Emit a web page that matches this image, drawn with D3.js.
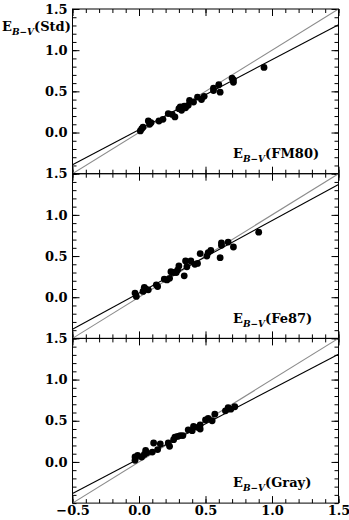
<!DOCTYPE html>
<html>
<head>
<meta charset="utf-8">
<script src="https://cdn.jsdelivr.net/npm/d3@7"></script>
<style>
  body { margin: 0; background: #fff; }
  svg { display: block; }
  .axis text { font-family: 'DejaVu Serif', serif; font-size: 13px; font-weight: bold; fill: #000; }
  .axis line { stroke: #000; }
  .lbl { font-family: 'DejaVu Serif', serif; font-size: 13px; font-weight: bold; }
</style>
</head>
<body>
<svg id="chart"></svg>
<script>
// panel labels (x axis quantity in each panel)
const panelNames = ['FM80', 'Fe87', 'Gray'];

// panel 1: E(B-V) FM80 vs Std
const xFM80 = [0.01, 0.02, 0.03, 0.07, 0.08, 0.09, 0.15, 0.18, 0.22, 0.25, 0.27, 0.30, 0.31, 0.32, 0.34, 0.35,
  0.37, 0.38, 0.41, 0.44, 0.47, 0.49, 0.56, 0.56, 0.60, 0.61, 0.70, 0.71, 0.71, 0.94];
const yStd1 = [0.02, 0.045, 0.065, 0.14, 0.10, 0.12, 0.14, 0.16, 0.23, 0.22, 0.19, 0.29, 0.31, 0.27, 0.32, 0.30,
  0.33, 0.39, 0.37, 0.43, 0.40, 0.44, 0.54, 0.51, 0.58, 0.49, 0.66, 0.61, 0.64, 0.79];

// panel 2: E(B-V) Fe87 vs Std
const xFe87 = [-0.03, -0.02, 0.03, 0.04, 0.05, 0.07, 0.13, 0.14, 0.19, 0.21, 0.23, 0.24, 0.26, 0.28, 0.29, 0.30,
  0.34, 0.35, 0.36, 0.39, 0.42, 0.44, 0.46, 0.51, 0.52, 0.54, 0.61, 0.62, 0.62, 0.67, 0.71, 0.90];
const yStd2 = [0.05, 0.01, 0.07, 0.12, 0.10, 0.09, 0.15, 0.13, 0.22, 0.21, 0.23, 0.31, 0.30, 0.30, 0.33, 0.38,
  0.26, 0.44, 0.37, 0.44, 0.40, 0.41, 0.53, 0.50, 0.54, 0.57, 0.48, 0.66, 0.63, 0.67, 0.61, 0.79];

// panel 3: E(B-V) Gray vs Std
const xGray = [-0.03, -0.03, -0.01, 0.02, 0.04, 0.05, 0.06, 0.10, 0.11, 0.14, 0.16, 0.22, 0.23, 0.26, 0.27, 0.29,
  0.31, 0.33, 0.37, 0.40, 0.41, 0.44, 0.46, 0.46, 0.50, 0.52, 0.55, 0.57, 0.65, 0.67, 0.69, 0.72];
const yStd3 = [0.02, 0.06, 0.08, 0.06, 0.09, 0.14, 0.11, 0.12, 0.23, 0.15, 0.22, 0.23, 0.19, 0.27, 0.30, 0.31,
  0.32, 0.32, 0.39, 0.38, 0.43, 0.42, 0.40, 0.45, 0.51, 0.53, 0.50, 0.58, 0.62, 0.66, 0.64, 0.67];

// linear fits (black) per panel
const fitSlope = [0.85, 0.88, 0.845];
const fitIntercept = [0.035, 0.05, 0.04];

const xTickVals = [-0.5, 0.0, 0.5, 1.0, 1.5];
const yTickVals = [0.0, 0.5, 1.0, 1.5];
const domainMin = -0.5;
const domainMax = 1.5;

const app = (function () {
  'use strict';

  const W = 349;
  const H = 520;
  const left = 72.5;
  const right = 338.5;
  const top = 9;
  const panelH = 164.7;

  function init () {
    const svg = d3.select('#chart')
      .attr('width', W)
      .attr('height', H);

    const xs = [xFM80, xFe87, xGray];
    const ys = [yStd1, yStd2, yStd3];

    const x = d3.scaleLinear()
      .domain([domainMin, domainMax])
      .range([left, right]);

    panelNames.forEach(function (name, i) {
      const y0 = top + i * panelH;
      const y = d3.scaleLinear()
        .domain([domainMin, domainMax])
        .range([y0 + panelH, y0]);

      const g = svg.append('g');

      // ticks: minor then major, all pointing inward
      const minorX = x.ticks(20);
      const minorY = y.ticks(20);
      addAxis(g, d3.axisBottom(x).tickValues(minorX).tickSize(-4).tickFormat(''), 'translate(0,' + y(domainMin) + ')');
      addAxis(g, d3.axisTop(x).tickValues(minorX).tickSize(-4).tickFormat(''), 'translate(0,' + y(domainMax) + ')');
      addAxis(g, d3.axisLeft(y).tickValues(minorY).tickSize(-4).tickFormat(''), 'translate(' + left + ',0)');
      addAxis(g, d3.axisRight(y).tickValues(minorY).tickSize(-4).tickFormat(''), 'translate(' + right + ',0)');

      addAxis(g, d3.axisBottom(x).tickValues(xTickVals).tickSize(-7)
        .tickFormat(i === 2 ? d3.format('.1f') : ''), 'translate(0,' + y(domainMin) + ')');
      addAxis(g, d3.axisTop(x).tickValues(xTickVals).tickSize(-7).tickFormat(''), 'translate(0,' + y(domainMax) + ')');
      addAxis(g, d3.axisLeft(y).tickValues(yTickVals).tickSize(-7).tickPadding(5)
        .tickFormat(d3.format('.1f')), 'translate(' + left + ',0)');
      addAxis(g, d3.axisRight(y).tickValues(yTickVals).tickSize(-7).tickFormat(''), 'translate(' + right + ',0)');

      // clip lines to the panel
      const clipId = 'clip' + i;
      svg.append('clipPath').attr('id', clipId)
        .append('rect')
        .attr('x', left).attr('y', y0)
        .attr('width', right - left).attr('height', panelH);

      const lines = g.append('g').attr('clip-path', 'url(#' + clipId + ')');

      // one-to-one line
      lines.append('line')
        .attr('x1', x(domainMin)).attr('y1', y(domainMin))
        .attr('x2', x(domainMax)).attr('y2', y(domainMax))
        .attr('stroke', '#8c8c8c')
        .attr('stroke-width', 1.1);

      // fit line
      lines.append('line')
        .attr('x1', x(domainMin)).attr('y1', y(fitIntercept[i] + fitSlope[i] * domainMin))
        .attr('x2', x(domainMax)).attr('y2', y(fitIntercept[i] + fitSlope[i] * domainMax))
        .attr('stroke', '#000')
        .attr('stroke-width', 1.1);

      g.selectAll('circle')
        .data(xs[i].map(function (d, k) { return [d, ys[i][k]]; }))
        .enter()
        .append('circle')
        .attr('cx', function (d) { return x(d[0]); })
        .attr('cy', function (d) { return y(d[1]); })
        .attr('r', 3.4)
        .attr('fill', '#000');

      // frame
      g.append('rect')
        .attr('x', left).attr('y', y0)
        .attr('width', right - left).attr('height', panelH)
        .attr('fill', 'none')
        .attr('stroke', '#000')
        .attr('stroke-width', 1);

      // panel label
      addLabel(svg, 233, y0 + 149, name);
    });

    // y axis title
    addLabel(svg, 2, 31, 'Std');
  }

  function addAxis (g, axis, transform) {
    const a = g.append('g')
      .attr('class', 'axis')
      .attr('transform', transform)
      .call(axis);
    a.select('.domain').remove();
    return a;
  }

  function addLabel (svg, x, y, name) {
    const t = svg.append('text')
      .attr('class', 'lbl')
      .attr('x', x)
      .attr('y', y);
    t.append('tspan').text('E');
    t.append('tspan')
      .attr('dy', 4)
      .style('font-size', '9px')
      .style('font-style', 'italic')
      .text('B\u2212V');
    t.append('tspan')
      .attr('dy', -4)
      .text('(' + name + ')');
  }

  return {
    init: init
  };
}());

window.addEventListener('load', app.init);
</script>
</body>
</html>
